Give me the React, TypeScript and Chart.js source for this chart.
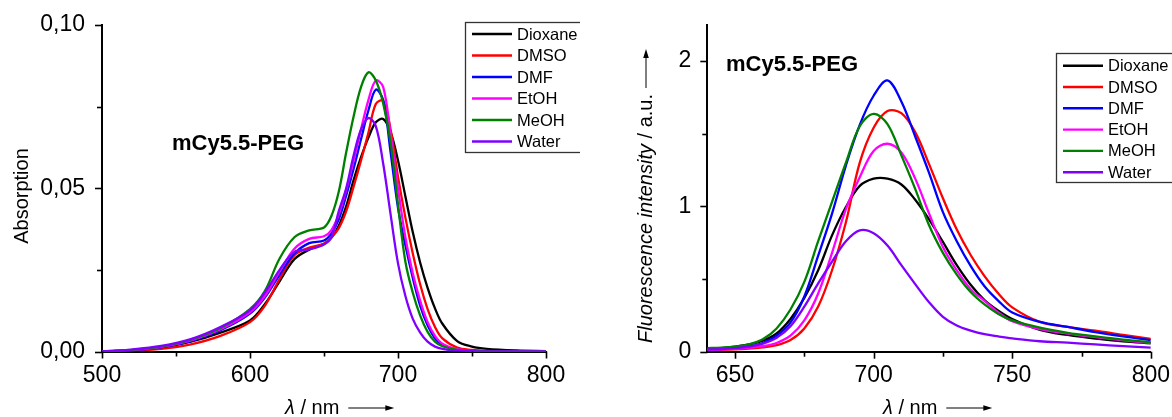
import React, { useEffect, useRef } from 'react';
import { Chart, registerables } from 'chart.js';

Chart.register(...registerables);

// ---------- data ----------
const seriesNames = ['Dioxane', 'DMSO', 'DMF', 'EtOH', 'MeOH', 'Water'];
const seriesColors = ['#000000', '#ff0000', '#0000ff', '#ff00ff', '#008000', '#8000ff'];
const sampleLabel = 'mCy5.5-PEG';

const absWavelengths = [500, 520, 540, 560, 580, 600, 610, 620, 630, 640, 650, 655, 660, 665, 670, 675, 680, 685, 690, 695, 700, 705, 710, 715, 720, 725, 730, 740, 750, 760, 780, 800];
const absDioxane = [0, 0.0004, 0.0012, 0.0030, 0.0058, 0.0095, 0.0145, 0.0215, 0.0283, 0.0312, 0.0330, 0.0348, 0.0385, 0.0445, 0.0525, 0.0595, 0.0655, 0.0702, 0.0712, 0.0672, 0.0585, 0.0475, 0.0365, 0.0272, 0.0195, 0.0132, 0.0085, 0.0032, 0.0015, 0.0008, 0.0003, 0.0001];
const absDMSO = [0, 0.0002, 0.0008, 0.0022, 0.0048, 0.0090, 0.0140, 0.0222, 0.0295, 0.0318, 0.0330, 0.0350, 0.0378, 0.0430, 0.0505, 0.0585, 0.0670, 0.0758, 0.0768, 0.0680, 0.0535, 0.0410, 0.0300, 0.0205, 0.0130, 0.0075, 0.0040, 0.0012, 0.0005, 0.0002, 0.0001, 0];
const absDMF = [0, 0.0004, 0.0013, 0.0032, 0.0065, 0.0116, 0.0165, 0.0235, 0.0300, 0.0332, 0.0340, 0.0362, 0.0405, 0.0478, 0.0560, 0.0650, 0.0738, 0.0802, 0.0770, 0.0610, 0.0440, 0.0325, 0.0225, 0.0140, 0.0080, 0.0040, 0.0020, 0.0006, 0.0002, 0.0001, 0, 0];
const absEtOH = [0, 0.0004, 0.0014, 0.0034, 0.0068, 0.0120, 0.0170, 0.0245, 0.0315, 0.0345, 0.0353, 0.0372, 0.0420, 0.0495, 0.0585, 0.0680, 0.0770, 0.0830, 0.0810, 0.0665, 0.0500, 0.0350, 0.0240, 0.0155, 0.0090, 0.0048, 0.0024, 0.0007, 0.0002, 0.0001, 0, 0];
const absMeOH = [0, 0.0005, 0.0015, 0.0036, 0.0072, 0.0130, 0.0185, 0.0285, 0.0350, 0.0371, 0.0380, 0.0415, 0.0490, 0.0610, 0.0720, 0.0810, 0.0855, 0.0830, 0.0760, 0.0640, 0.0450, 0.0275, 0.0180, 0.0110, 0.0060, 0.0030, 0.0016, 0.0005, 0.0002, 0.0001, 0, 0];
const absWater = [0, 0.0006, 0.0017, 0.0038, 0.0075, 0.0126, 0.0180, 0.0250, 0.0305, 0.0313, 0.0328, 0.0350, 0.0430, 0.0500, 0.0600, 0.0680, 0.0715, 0.0690, 0.0575, 0.0420, 0.0270, 0.0170, 0.0100, 0.0058, 0.0030, 0.0015, 0.0008, 0.0002, 0.0001, 0, 0, 0];

const flWavelengths = [640, 645, 650, 655, 660, 665, 670, 675, 680, 685, 690, 695, 700, 705, 710, 715, 720, 725, 730, 735, 740, 745, 750, 760, 770, 780, 790, 800];
const flDioxane = [0.020, 0.025, 0.035, 0.050, 0.075, 0.125, 0.225, 0.370, 0.560, 0.800, 0.995, 1.140, 1.190, 1.190, 1.150, 1.045, 0.910, 0.755, 0.595, 0.460, 0.355, 0.282, 0.225, 0.150, 0.115, 0.090, 0.072, 0.058];
const flDMSO = [0.010, 0.012, 0.016, 0.022, 0.030, 0.045, 0.080, 0.160, 0.310, 0.560, 0.890, 1.300, 1.540, 1.655, 1.640, 1.510, 1.290, 1.055, 0.840, 0.665, 0.520, 0.400, 0.305, 0.205, 0.170, 0.145, 0.115, 0.088];
const flDMF = [0.015, 0.020, 0.025, 0.035, 0.060, 0.110, 0.200, 0.380, 0.660, 0.950, 1.280, 1.560, 1.760, 1.865, 1.720, 1.480, 1.230, 0.960, 0.760, 0.590, 0.450, 0.350, 0.270, 0.205, 0.170, 0.135, 0.105, 0.080];
const flEtOH = [0.012, 0.015, 0.020, 0.028, 0.038, 0.060, 0.110, 0.215, 0.400, 0.680, 0.980, 1.200, 1.380, 1.430, 1.370, 1.190, 0.950, 0.720, 0.560, 0.430, 0.350, 0.270, 0.210, 0.155, 0.125, 0.100, 0.078, 0.060];
const flMeOH = [0.025, 0.028, 0.035, 0.050, 0.085, 0.160, 0.290, 0.480, 0.760, 1.030, 1.300, 1.550, 1.635, 1.565, 1.350, 1.120, 0.870, 0.680, 0.530, 0.410, 0.325, 0.260, 0.215, 0.165, 0.130, 0.105, 0.083, 0.065];
const flWater = [0.015, 0.018, 0.025, 0.035, 0.055, 0.095, 0.175, 0.310, 0.470, 0.620, 0.760, 0.835, 0.815, 0.730, 0.595, 0.465, 0.340, 0.240, 0.180, 0.145, 0.120, 0.105, 0.092, 0.072, 0.062, 0.050, 0.038, 0.028];

const absXTicks = [500, 600, 700, 800];
const absXMinor = [550, 650, 750];
const absYTicks = [0, 0.05, 0.1];
const absYLabels = ['0,00', '0,05', '0,10'];
const absYMinor = [0.025, 0.075];

const flXTicks = [650, 700, 750, 800];
const flXMinor = [675, 725, 775];
const flYTicks = [0, 1, 2];
const flYLabels = ['0', '1', '2'];
const flYMinor = [0.5, 1.5];

const absYTitle = 'Absorption';
const flYTitleItalic = 'Fluorescence intensity';
const flYTitleRest = ' / a.u.';
const xTitleSymbol = 'λ';
const xTitleRest = ' / nm';

const FONT = '"Liberation Sans", Arial, Helvetica, sans-serif';

// ---------- helpers ----------
function drawArrowH(ctx: CanvasRenderingContext2D, x1: number, x2: number, y: number) {
  ctx.beginPath();
  ctx.lineWidth = 1;
  ctx.moveTo(x1, y);
  ctx.lineTo(x2 - 7, y);
  ctx.stroke();
  ctx.beginPath();
  ctx.moveTo(x2, y);
  ctx.lineTo(x2 - 9, y - 2.8);
  ctx.lineTo(x2 - 9, y + 2.8);
  ctx.closePath();
  ctx.fill();
}

function makeDecor(cfg: any) {
  return {
    id: 'decor',
    afterDraw(chart: any) {
      const ctx: CanvasRenderingContext2D = chart.ctx;
      const xs = chart.scales.x;
      const ys = chart.scales.y;
      const area = chart.chartArea;
      ctx.save();
      ctx.strokeStyle = '#000';
      ctx.fillStyle = '#000';
      ctx.lineWidth = 1.6;
      // ticks
      const tx = (vals: number[], len: number) => vals.forEach((v) => {
        const p = Math.round(xs.getPixelForValue(v)) + 0.5;
        ctx.beginPath(); ctx.moveTo(p, area.bottom); ctx.lineTo(p, area.bottom + len); ctx.stroke();
      });
      const ty = (vals: number[], len: number) => vals.forEach((v) => {
        const p = Math.round(ys.getPixelForValue(v)) + 0.5;
        ctx.beginPath(); ctx.moveTo(area.left, p); ctx.lineTo(area.left - len, p); ctx.stroke();
      });
      tx(cfg.xMajor, 7); tx(cfg.xMinor, 5);
      ty(cfg.yMajor, 7); ty(cfg.yMinor, 5);

      // legend
      const lg = cfg.legend;
      ctx.lineWidth = 1.3;
      ctx.strokeStyle = '#333';
      ctx.strokeRect(lg.x + 0.5, lg.y + 0.5, lg.w, lg.h);
      ctx.font = `16.5px ${FONT}`;
      ctx.textBaseline = 'middle';
      ctx.textAlign = 'left';
      seriesNames.forEach((name, i) => {
        const yy = lg.rowY + i * lg.rowGap;
        ctx.strokeStyle = seriesColors[i];
        ctx.lineWidth = 2.4;
        ctx.beginPath(); ctx.moveTo(lg.lineX1, yy); ctx.lineTo(lg.lineX2, yy); ctx.stroke();
        ctx.fillStyle = '#000';
        ctx.fillText(name, lg.textX, yy + 1);
      });

      // sample label
      ctx.font = `bold 22px ${FONT}`;
      ctx.fillStyle = '#000';
      ctx.textBaseline = 'middle';
      ctx.fillText(sampleLabel, cfg.label.x, cfg.label.y);

      // x title
      ctx.textBaseline = 'alphabetic';
      ctx.textAlign = 'left';
      let cx = cfg.xTitle.x;
      ctx.font = `italic 20px ${FONT}`;
      ctx.fillText(xTitleSymbol, cx, cfg.xTitle.y);
      cx += ctx.measureText(xTitleSymbol).width;
      ctx.font = `20px ${FONT}`;
      ctx.fillText(xTitleRest, cx, cfg.xTitle.y);
      cx += ctx.measureText(xTitleRest).width;
      ctx.strokeStyle = '#000';
      drawArrowH(ctx, cx + 9, cx + 55, cfg.xTitle.y - 6);

      // y title
      ctx.save();
      ctx.translate(cfg.yTitle.x, cfg.yTitle.y);
      ctx.rotate(-Math.PI / 2);
      if (cfg.yTitle.mode === 'abs') {
        ctx.font = `20px ${FONT}`;
        ctx.textAlign = 'center';
        ctx.fillText(absYTitle, 0, 0);
      } else {
        let px = 0;
        ctx.font = `italic 20px ${FONT}`;
        ctx.fillText(flYTitleItalic, px, 0);
        px += ctx.measureText(flYTitleItalic).width;
        ctx.font = `20px ${FONT}`;
        ctx.fillText(flYTitleRest, px, 0);
        px += ctx.measureText(flYTitleRest).width;
        drawArrowH(ctx, px + 6, px + 45, -6);
      }
      ctx.restore();
      ctx.restore();
    },
  };
}

function buildChart(canvas: HTMLCanvasElement, opts: any) {
  const datasets = opts.series.map((vals: number[], i: number) => ({
    label: seriesNames[i],
    data: opts.wavelengths.map((w: number, k: number) => ({ x: w, y: vals[k] })),
    borderColor: seriesColors[i],
    backgroundColor: seriesColors[i],
    borderWidth: 2.3,
    pointRadius: 0,
    fill: false,
    tension: 0.35,
    order: seriesNames.length - 1 - i,
  }));
  const tickFont = { family: FONT, size: 23 };
  return new Chart(canvas, {
    type: 'line',
    data: { datasets },
    plugins: [makeDecor(opts.decor)],
    options: {
      animation: false,
      responsive: false,
      events: [],
      layout: { padding: opts.padding },
      plugins: { legend: { display: false }, tooltip: { enabled: false }, title: { display: false } },
      scales: {
        x: {
          type: 'linear',
          min: opts.xMin,
          max: opts.xMax,
          grid: { display: false },
          border: { display: true, color: '#000', width: 2 },
          afterBuildTicks: (s: any) => { s.ticks = opts.xTicks.map((v: number) => ({ value: v })); },
          afterFit: (s: any) => { s.height = opts.xHeight; },
          ticks: { color: '#000', font: tickFont, padding: 2, maxRotation: 0, autoSkip: false, callback: (v: any) => String(v) },
        },
        y: {
          type: 'linear',
          min: opts.yMin,
          max: opts.yMax,
          grid: { display: false },
          border: { display: true, color: '#000', width: 2 },
          afterBuildTicks: (s: any) => { s.ticks = opts.yTicks.map((v: number) => ({ value: v })); },
          afterFit: (s: any) => { s.width = opts.yWidth; },
          ticks: {
            color: '#000', font: tickFont, padding: opts.yPad, autoSkip: false,
            callback: (v: any) => { const idx = opts.yTicks.indexOf(v); return idx >= 0 ? opts.yLabels[idx] : ''; },
          },
        },
      },
    },
  } as any);
}

export default function App() {
  const leftRef = useRef<HTMLCanvasElement>(null);
  const rightRef = useRef<HTMLCanvasElement>(null);

  useEffect(() => {
    const left = buildChart(leftRef.current!, {
      wavelengths: absWavelengths,
      series: [absDioxane, absDMSO, absDMF, absEtOH, absMeOH, absWater],
      xMin: 500, xMax: 800, yMin: 0, yMax: 0.1,
      xTicks: absXTicks, yTicks: absYTicks, yLabels: absYLabels, yPad: 9,
      padding: { left: 0, top: 25, right: 34, bottom: 0 },
      yWidth: 102, xHeight: 65.5,
      decor: {
        xMajor: absXTicks, xMinor: absXMinor, yMajor: absYTicks, yMinor: absYMinor,
        legend: { x: 465, y: 22, w: 130, h: 130, rowY: 34, rowGap: 21.5, lineX1: 472, lineX2: 512, textX: 517 },
        label: { x: 172, y: 144 },
        xTitle: { x: 285, y: 414 },
        yTitle: { x: 28, y: 196, mode: 'abs' },
      },
    });
    const right = buildChart(rightRef.current!, {
      wavelengths: flWavelengths,
      series: [flDioxane, flDMSO, flDMF, flEtOH, flMeOH, flWater],
      xMin: 640, xMax: 800, yMin: 0, yMax: 2.25,
      xTicks: flXTicks, yTicks: flYTicks, yLabels: flYLabels, yPad: 8,
      padding: { left: 0, top: 24.5, right: 20.5, bottom: 0 },
      yWidth: 127.3, xHeight: 65.3,
      decor: {
        xMajor: flXTicks, xMinor: flXMinor, yMajor: flYTicks, yMinor: flYMinor,
        legend: { x: 476, y: 53, w: 130, h: 129, rowY: 65.7, rowGap: 21.3, lineX1: 483, lineX2: 523, textX: 528 },
        label: { x: 146, y: 65 },
        xTitle: { x: 303, y: 414 },
        yTitle: { x: 72, y: 343, mode: 'fl' },
      },
    });
    return () => { left.destroy(); right.destroy(); };
  }, []);

  return (
    <div style={{ position: 'absolute', left: 0, top: 0, width: 1172, height: 417, background: '#fff' }}>
      <canvas ref={leftRef} width={580} height={417} style={{ position: 'absolute', left: 0, top: 0, width: 580, height: 417 }} />
      <canvas ref={rightRef} width={592} height={417} style={{ position: 'absolute', left: 580, top: 0, width: 592, height: 417 }} />
    </div>
  );
}
